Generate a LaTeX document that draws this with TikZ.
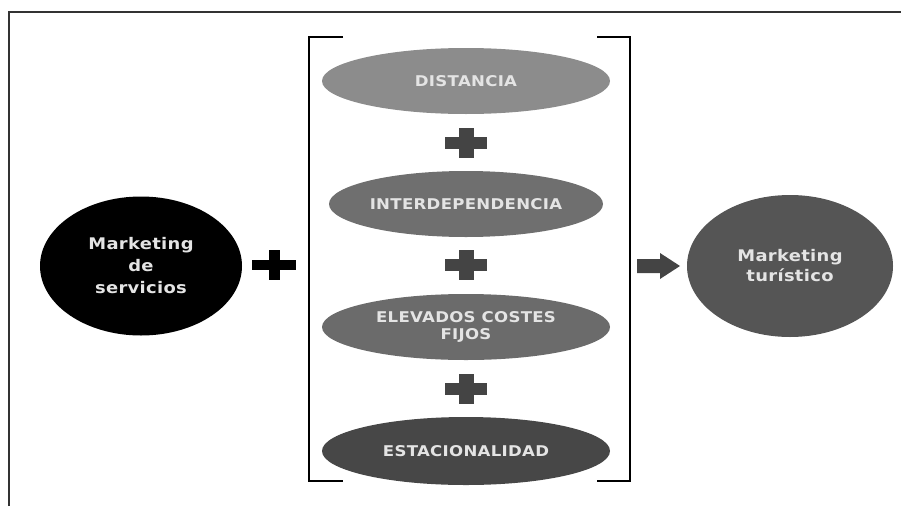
\documentclass[tikz,border=0pt]{standalone}
\usepackage{fontspec}
\setmainfont{DejaVu Sans}
\newfontfamily\lblfont[FakeStretch=1.12, LetterSpace=2]{DejaVu Sans Bold}
\usetikzlibrary{shapes.geometric}
\definecolor{gA}{HTML}{8C8C8C}
\definecolor{gB}{HTML}{6F6F6F}
\definecolor{gC}{HTML}{6B6B6B}
\definecolor{gD}{HTML}{474747}
\definecolor{gR}{HTML}{555555}
\definecolor{gP}{HTML}{444444}
\definecolor{txt}{HTML}{E4E4E4}
\tikzset{
  oval/.style={ellipse, inner sep=0pt, text=txt, font=\lblfont\fontsize{14.8}{17}\selectfont, align=center},
  factor/.style={oval, minimum width=288pt, minimum height=66pt},
  bigoval/.style={ellipse, inner sep=0pt, text=txt, font=\lblfont\fontsize{16}{22}\selectfont, align=center},
  brk/.style={line width=2.4pt, black},
}
\begin{document}
\begin{tikzpicture}[x=1pt,y=-1pt]
\useasboundingbox (0,0) rectangle (901,506);
% frame
\draw[line width=1.8pt, black!80] (9,506) -- (9,12) -- (901,12);
% brackets
\draw[brk] (343,37) -- (309,37) -- (309,481) -- (343,481);
\draw[brk] (597,37) -- (630,37) -- (630,481) -- (597,481);
% factors
\node[factor, fill=gA] (dist) at (466,81) {DISTANCIA};
\node[factor, fill=gB, minimum width=274pt] (inter) at (466,204) {INTERDEPENDENCIA};
\node[factor, fill=gC] (elev) at (466,327) {ELEVADOS COSTES\\FIJOS};
\node[factor, fill=gD, minimum height=68pt] (esta) at (466,451) {ESTACIONALIDAD};
% small pluses
\foreach \n/\y in {p1/143, p2/265, p3/389}{
  \coordinate (\n) at (466,\y);
  \fill[gP] ([xshift=-21pt,yshift=-6pt]\n) rectangle ([xshift=21pt,yshift=6pt]\n);
  \fill[gP] ([xshift=-7.5pt,yshift=-15pt]\n) rectangle ([xshift=7.5pt,yshift=15pt]\n);
}
% left ellipse
\node[bigoval, fill=black, minimum width=202pt, minimum height=139pt] (serv) at (141,266) {Marketing\\de\\servicios};
% big plus
\coordinate (bp) at (274,265);
\fill[black] ([xshift=-22pt,yshift=-5pt]bp) rectangle ([xshift=22pt,yshift=5pt]bp);
\fill[black] ([xshift=-5.5pt,yshift=-15pt]bp) rectangle ([xshift=5.5pt,yshift=15pt]bp);
% right ellipse
\node[bigoval, fill=gR, minimum width=206pt, minimum height=142pt, font=\lblfont\fontsize{16}{20}\selectfont] (tur) at (790,266) {Marketing\\turístico};
% arrow
\coordinate (ar) at (637,266);
\fill[gP] (ar) ++(0,-7) -- ++(23,0) -- ++(0,-6) -- ++(20,13) -- ++(-20,13) -- ++(0,-6) -- ++(-23,0) -- cycle;
\end{tikzpicture}
\end{document}
